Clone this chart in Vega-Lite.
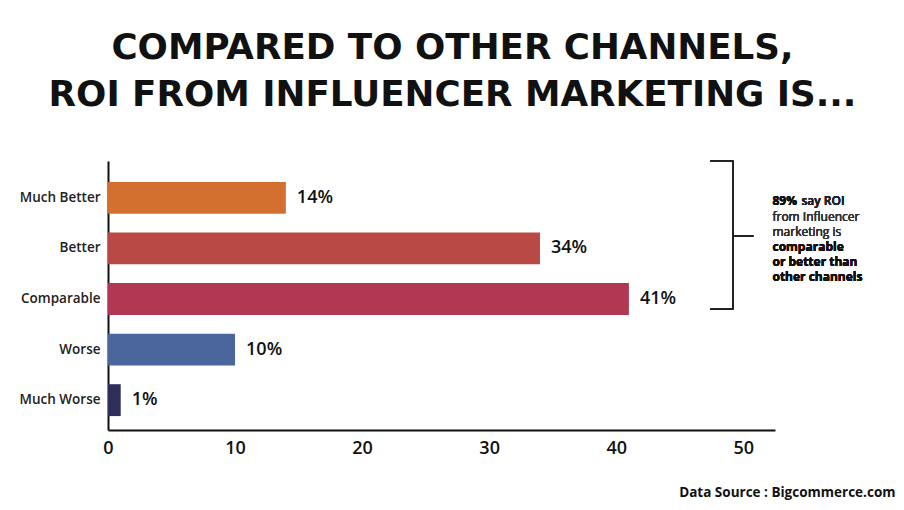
{
  "$schema": "https://vega.github.io/schema/vega-lite/v6.json",
  "width": 667,
  "height": 269,
  "autosize": {"type": "none"},
  "padding": {"left": 108, "top": 161, "right": 129, "bottom": 80},
  "background": "white",
  "config": {"view": {"stroke": null}, "font": "Open Sans"},
  "title": {
    "text": ["COMPARED TO OTHER CHANNELS,", "ROI FROM INFLUENCER MARKETING IS..."],
    "font": "DejaVu Sans",
    "fontSize": 35.7,
    "fontWeight": 700,
    "color": "#111111",
    "lineHeight": 47,
    "anchor": "middle",
    "dx": 11,
    "offset": 46
  },
  "data": {
    "values": [
      {"response": "Much Better", "value": 14, "label": "14%"},
      {"response": "Better", "value": 34, "label": "34%"},
      {"response": "Comparable", "value": 41, "label": "41%"},
      {"response": "Worse", "value": 10, "label": "10%"},
      {"response": "Much Worse", "value": 1, "label": "1%"}
    ]
  },
  "encoding": {
    "y": {
      "field": "response",
      "type": "nominal",
      "sort": ["Much Better", "Better", "Comparable", "Worse", "Much Worse"],
      "scale": {"paddingInner": 0.37, "paddingOuter": 0.344, "align": 0.6},
      "axis": {
        "title": null,
        "domain": true,
        "domainColor": "#111111",
        "domainWidth": 2,
        "ticks": false,
        "labelFontSize": 13.5,
        "labelFontWeight": 600,
        "labelColor": "#222222",
        "labelPadding": 8
      }
    }
  },
  "layer": [
    {
      "mark": {"type": "bar"},
      "encoding": {
        "x": {
          "field": "value",
          "type": "quantitative",
          "scale": {"domain": [0, 52.5], "nice": false},
          "axis": {
            "values": [0, 10, 20, 30, 40, 50],
            "grid": false,
            "ticks": false,
            "labelFlush": false,
            "domainColor": "#111111",
            "domainWidth": 2,
            "labelFontSize": 18,
            "labelFontWeight": 600,
            "labelColor": "#111111",
            "labelPadding": 9,
            "title": "Data Source : Bigcommerce.com",
            "titleFontSize": 13.5,
            "titleFontWeight": 700,
            "titleColor": "#111111",
            "titleAlign": "right",
            "titleBaseline": "middle",
            "titleX": 787,
            "titleY": 62
          }
        },
        "color": {
          "field": "response",
          "type": "nominal",
          "scale": {
            "domain": ["Much Better", "Better", "Comparable", "Worse", "Much Worse"],
            "range": ["#d3702f", "#b94944", "#b13752", "#4a669d", "#2d2e59"]
          },
          "legend": null
        }
      }
    },
    {
      "mark": {"type": "text", "align": "left", "baseline": "middle", "dx": 11, "fontSize": 18, "fontWeight": 600, "color": "#111111"},
      "encoding": {
        "x": {"field": "value", "type": "quantitative"},
        "text": {"field": "label"}
      }
    },
    {
      "mark": {"type": "rule", "color": "#222222", "strokeWidth": 1.5},
      "encoding": {
        "x": {"datum": 49.2, "type": "quantitative"},
        "y": {"datum": "Much Better", "bandPosition": -0.66},
        "y2": {"datum": "Comparable", "bandPosition": 0.82}
      }
    },
    {
      "mark": {"type": "rule", "color": "#222222", "strokeWidth": 1.5},
      "encoding": {
        "x": {"datum": 47.4, "type": "quantitative"},
        "x2": {"datum": 49.2},
        "y": {"datum": "Much Better", "bandPosition": -0.66}
      }
    },
    {
      "mark": {"type": "rule", "color": "#222222", "strokeWidth": 1.5},
      "encoding": {
        "x": {"datum": 47.4, "type": "quantitative"},
        "x2": {"datum": 49.2},
        "y": {"datum": "Comparable", "bandPosition": 0.82}
      }
    },
    {
      "mark": {"type": "rule", "color": "#222222", "strokeWidth": 1.5},
      "encoding": {
        "x": {"datum": 49.2, "type": "quantitative"},
        "x2": {"datum": 50.8},
        "y": {"datum": "Better", "bandPosition": 0.11}
      }
    },
    {
      "mark": {"type": "text", "align": "left", "baseline": "middle", "fontSize": 12, "fontWeight": 700, "color": "#111111", "clip": false, "dy": -38, "text": "89%"},
      "encoding": {"x": {"datum": 52.3, "type": "quantitative"}, "y": {"datum": "Better", "bandPosition": 0.22}}
    },
    {
      "mark": {"type": "text", "align": "left", "baseline": "middle", "fontSize": 12, "fontWeight": 600, "color": "#222222", "clip": false, "dy": -38, "dx": 29, "text": "say ROI"},
      "encoding": {"x": {"datum": 52.3, "type": "quantitative"}, "y": {"datum": "Better", "bandPosition": 0.22}}
    },
    {
      "mark": {"type": "text", "align": "left", "baseline": "middle", "fontSize": 12, "fontWeight": 500, "color": "#333333", "clip": false, "dy": -22.8, "text": "from Influencer"},
      "encoding": {"x": {"datum": 52.3, "type": "quantitative"}, "y": {"datum": "Better", "bandPosition": 0.22}}
    },
    {
      "mark": {"type": "text", "align": "left", "baseline": "middle", "fontSize": 12, "fontWeight": 500, "color": "#333333", "clip": false, "dy": -7.6, "text": "marketing is"},
      "encoding": {"x": {"datum": 52.3, "type": "quantitative"}, "y": {"datum": "Better", "bandPosition": 0.22}}
    },
    {
      "mark": {"type": "text", "align": "left", "baseline": "middle", "fontSize": 12, "fontWeight": 700, "color": "#111111", "clip": false, "dy": 7.6, "text": "comparable"},
      "encoding": {"x": {"datum": 52.3, "type": "quantitative"}, "y": {"datum": "Better", "bandPosition": 0.22}}
    },
    {
      "mark": {"type": "text", "align": "left", "baseline": "middle", "fontSize": 12, "fontWeight": 700, "color": "#111111", "clip": false, "dy": 22.8, "text": "or better than"},
      "encoding": {"x": {"datum": 52.3, "type": "quantitative"}, "y": {"datum": "Better", "bandPosition": 0.22}}
    },
    {
      "mark": {"type": "text", "align": "left", "baseline": "middle", "fontSize": 12, "fontWeight": 700, "color": "#111111", "clip": false, "dy": 38, "text": "other channels"},
      "encoding": {"x": {"datum": 52.3, "type": "quantitative"}, "y": {"datum": "Better", "bandPosition": 0.22}}
    }
  ]
}
